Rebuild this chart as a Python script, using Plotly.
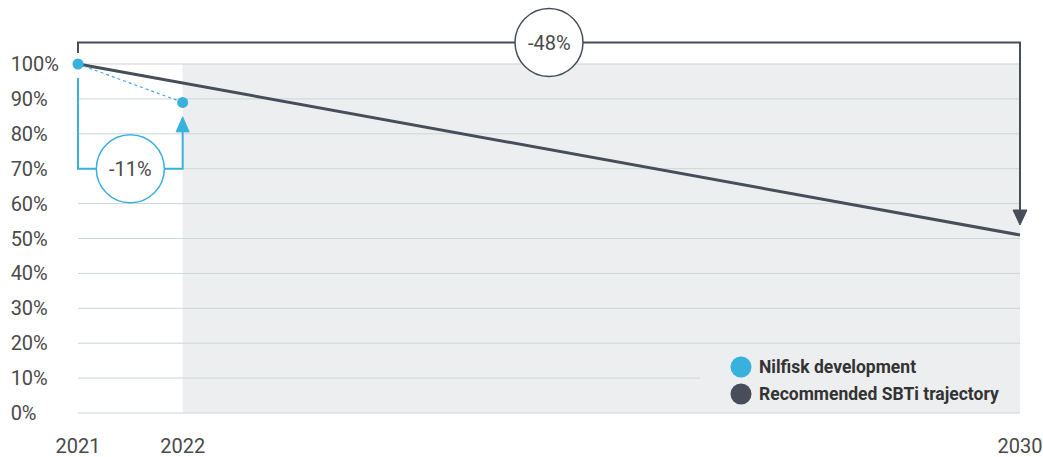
import plotly.graph_objects as go

# ---------------- data ----------------
nilfisk_years = [2021, 2022]
nilfisk_values = [100, 89]
sbti_years = [2021, 2030]
sbti_values = [100, 51]
x_ticks = [2021, 2022, 2030]
x_labels = ["2021", "2022", "2030"]
y_ticks = [0, 10, 20, 30, 40, 50, 60, 70, 80, 90, 100]
y_labels = ["0%", "10%", "20%", "30%", "40%", "50%", "60%", "70%", "80%", "90%", "100%"]
series_names = ["Nilfisk development", "Recommended SBTi trajectory"]
change_labels = ["-11%", "-48%"]

# ---------------- style ----------------
BLUE = "#38b1dd"
DARK = "#474e5a"
SHADE = "#edeef0"
GRID = "#cdd5d5"
TEXT = "#4a4a4a"
FONT = "Roboto"

W, H = 1043, 457
ML, MR, MT, MB = 64, 3, 0, 37
PXX = 104.667   # pixels per year
PXY = 3.49      # pixels per percent
x0_px, y0_px = 78, 413  # pixel of (2021, 0%)

def dx(px):
    return px / PXX

def dy(px):
    return px / PXY

xr = [nilfisk_years[0] - dx(x0_px - ML), sbti_years[-1] + dx(W - MR - (x0_px + 9 * PXX))]
yr = [-dy(H - MB - y0_px), dy(y0_px - MT)]

# pad labels with figure spaces so they look left-aligned
maxlen = max(len(s) for s in y_labels)
y_text = [s + "\u2007" * (maxlen - len(s)) for s in y_labels]

start, mid, end = sbti_years[0], nilfisk_years[-1], sbti_years[-1]

fig = go.Figure()

# SBTi line
fig.add_trace(go.Scatter(
    x=sbti_years, y=sbti_values, mode="lines",
    line=dict(color=DARK, width=3), cliponaxis=False, showlegend=False,
    name=series_names[1]))
# Nilfisk
fig.add_trace(go.Scatter(
    x=nilfisk_years, y=nilfisk_values, mode="lines+markers",
    line=dict(color=BLUE, width=1.2, dash="3px,3px"),
    marker=dict(color=BLUE, size=11), cliponaxis=False, showlegend=False,
    name=series_names[0]))

shapes = []
# shaded forecast region
shapes.append(dict(type="rect", xref="x", yref="y", x0=mid, x1=end, y0=0, y1=100,
                   fillcolor=SHADE, line=dict(width=0), layer="below"))
# gridlines
for v in y_ticks:
    shapes.append(dict(type="line", xref="x", yref="y", x0=start, x1=end, y0=v, y1=v,
                       line=dict(color=GRID, width=1), layer="below"))
# legend box
leg_x0 = start + dx(700 - x0_px)
shapes.append(dict(type="rect", xref="x", yref="y", x0=leg_x0, x1=end, y0=1, y1=19,
                   fillcolor=SHADE, line=dict(width=0), layer="below"))

# ---- top bracket (-48%) ----
top_y = 100 + dy(21.5)
tip48 = sbti_values[-1] + dy(10)
shapes.append(dict(type="path", xref="x", yref="y",
                   path=f"M {start},{100 + dy(11)} L {start},{top_y} L {end},{top_y} L {end},{tip48 + dy(8)}",
                   line=dict(color=DARK, width=2)))
shapes.append(dict(type="path", xref="x", yref="y",
                   path=f"M {end - dx(7)},{tip48 + dy(15)} L {end + dx(7)},{tip48 + dy(15)} L {end},{tip48} Z",
                   fillcolor=DARK, line=dict(color=DARK, width=1)))
cx48 = (start + end) / 2
shapes.append(dict(type="circle", xref="x", yref="y",
                   x0=cx48 - dx(34), x1=cx48 + dx(34), y0=top_y - dy(34), y1=top_y + dy(34),
                   fillcolor="white", line=dict(color=DARK, width=1.5)))

# ---- blue bracket (-11%) ----
br_y = 70
tip11 = nilfisk_values[-1] - dy(14.5)
shapes.append(dict(type="path", xref="x", yref="y",
                   path=f"M {start},{100 - dy(14)} L {start},{br_y} L {mid},{br_y} L {mid},{tip11 - dy(8)}",
                   line=dict(color=BLUE, width=2)))
shapes.append(dict(type="path", xref="x", yref="y",
                   path=f"M {mid - dx(6.5)},{tip11 - dy(15)} L {mid + dx(6.5)},{tip11 - dy(15)} L {mid},{tip11} Z",
                   fillcolor=BLUE, line=dict(color=BLUE, width=1)))
cx11 = (start + mid) / 2
shapes.append(dict(type="circle", xref="x", yref="y",
                   x0=cx11 - dx(34), x1=cx11 + dx(34), y0=br_y - dy(34), y1=br_y + dy(34),
                   fillcolor="white", line=dict(color=BLUE, width=1.5)))

# legend markers
leg_cx = start + dx(741 - x0_px)
for col, yy in [(BLUE, dy(413 - 367)), (DARK, dy(413 - 394))]:
    shapes.append(dict(type="circle", xref="x", yref="y",
                       x0=leg_cx - dx(10.5), x1=leg_cx + dx(10.5), y0=yy - dy(10.5), y1=yy + dy(10.5),
                       fillcolor=col, line=dict(width=0)))

annotations = [
    dict(x=cx48, y=top_y, xref="x", yref="y", text=change_labels[1], showarrow=False,
         font=dict(family=FONT, size=20, color=TEXT)),
    dict(x=cx11, y=br_y, xref="x", yref="y", text=change_labels[0], showarrow=False,
         font=dict(family=FONT, size=20, color=TEXT)),
]
for name, yy in [(series_names[0], dy(413 - 367)), (series_names[1], dy(413 - 394))]:
    annotations.append(dict(x=start + dx(757 - x0_px), y=yy, xref="x", yref="y", text=f"<b>{name}</b>",
                            showarrow=False, xanchor="left",
                            font=dict(family=FONT, size=17.5, color="#333333")))

fig.update_layout(
    width=W, height=H,
    margin=dict(l=ML, r=MR, t=MT, b=MB, autoexpand=False),
    paper_bgcolor="white", plot_bgcolor="white",
    shapes=shapes, annotations=annotations, showlegend=False,
    font=dict(family=FONT, color=TEXT),
    xaxis=dict(range=xr, tickvals=x_ticks, ticktext=x_labels, showgrid=False, zeroline=False,
               showline=False, ticks="outside", ticklen=0, ticklabelstandoff=8, automargin=False,
               tickfont=dict(family=FONT, size=20, color=TEXT), fixedrange=True),
    yaxis=dict(range=yr, tickvals=y_ticks, ticktext=y_text, showgrid=False, zeroline=False,
               showline=False, ticks="", ticklabelstandoff=4, automargin=False,
               tickfont=dict(family=FONT, size=20, color=TEXT), fixedrange=True),
)

fig.write_html("out.html")
